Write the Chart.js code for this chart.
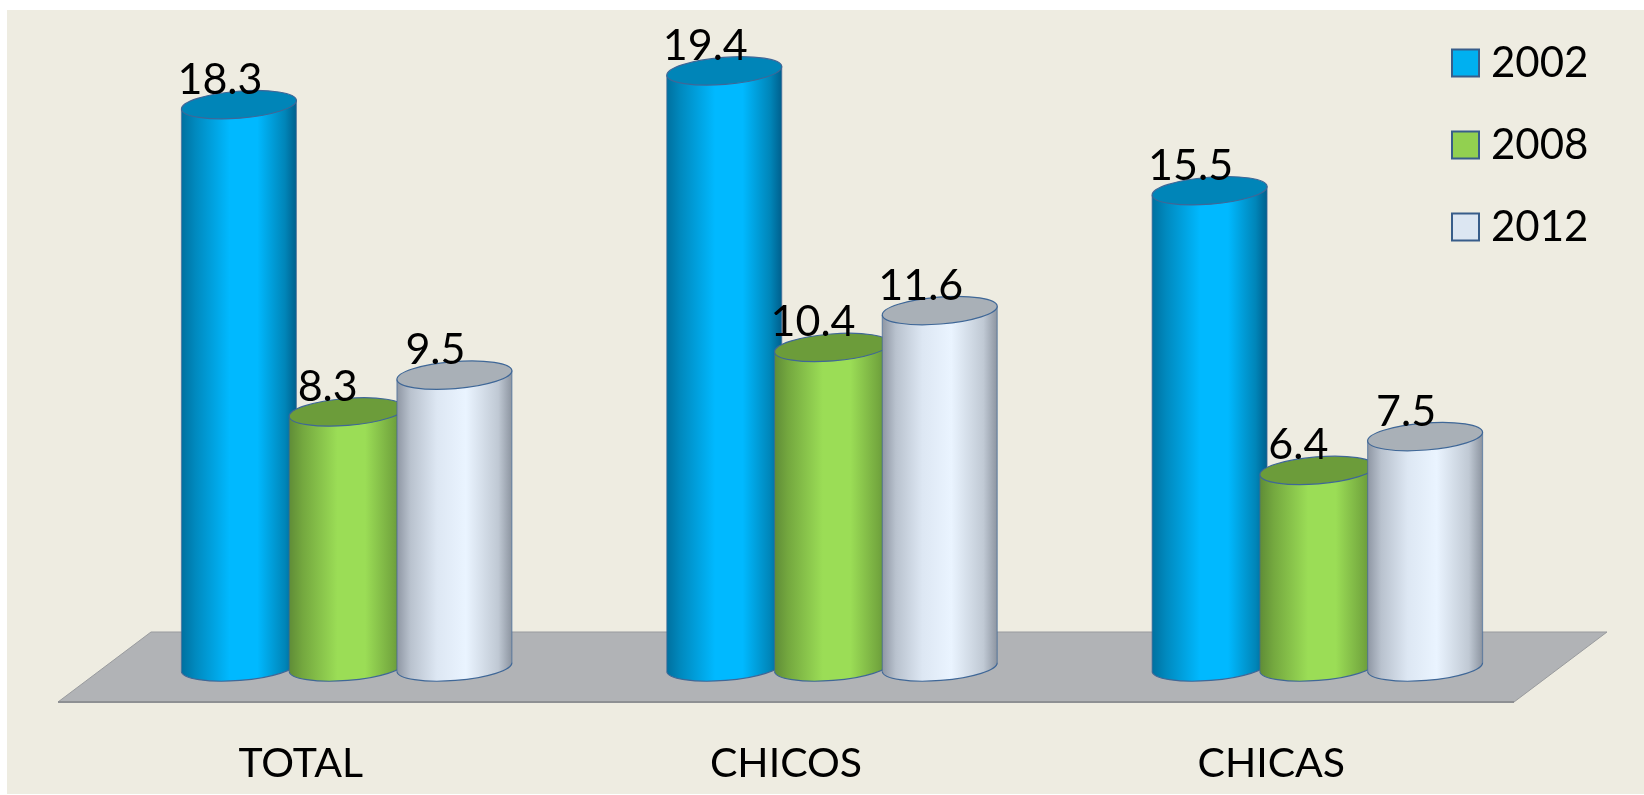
<!DOCTYPE html>
<html lang="es">
<head>
    <meta charset="UTF-8">
    <title>TOTAL, CHICOS, CHICAS</title>
    <script src="https://cdn.jsdelivr.net/npm/chart.js"></script>
    <style>
        html, body { margin: 0; padding: 0; background: #fff; overflow: hidden; }
        canvas { display: block; }
    </style>
</head>
<body>
    <canvas id="chart" width="1644" height="795"></canvas>
    <script>
        const categories = ['TOTAL', 'CHICOS', 'CHICAS'];
        const years = ['2002', '2008', '2012'];
        const values2002 = [18.3, 19.4, 15.5];
        const values2008 = [8.3, 10.4, 6.4];
        const values2012 = [9.5, 11.6, 7.5];

        const legendColors = ['#00B0F0', '#92D050', '#DCE6F2'];
        const topColors = ['#0085B8', '#6C9C3A', '#A9B0B7'];
        const sideStops = [
            [[0, '#00709F'], [0.12, '#0089BE'], [0.42, '#00B9FF'], [0.66, '#00B9FF'], [0.9, '#0085B8'], [1, '#005F8C']],
            [[0, '#5F8C37'], [0.12, '#74A83F'], [0.42, '#9BDD56'], [0.66, '#9BDD56'], [0.9, '#74A83F'], [1, '#5F8C37']],
            [[0, '#8E96A3'], [0.12, '#B9C2CE'], [0.35, '#DDE7F3'], [0.6, '#EAF4FF'], [0.88, '#C0C9D4'], [1, '#8C94A0']]
        ];
        const fontName = 'Lato, "Open Sans", sans-serif';
        const outline = '#3F6797';

        // half of the floor depth, bars stand in the middle of it
        const floorDx = 93;
        const floorDy = -70;
        const barDx = 46;
        const barDy = -35;
        const tilt = -4.5 * Math.PI / 180;
        const ry = 13.5;

        function drawCylinder(ctx, bar, d) {
            const cx = bar.x + barDx;
            const top = bar.y + barDy;
            const bottom = bar.base + barDy;
            const rx = bar.width * 1.07 / 2;
            const ex = rx * Math.cos(tilt);
            const ey = rx * Math.sin(tilt);

            const grad = ctx.createLinearGradient(cx - rx, 0, cx + rx, 0);
            sideStops[d].forEach(s => grad.addColorStop(s[0], s[1]));

            ctx.beginPath();
            ctx.moveTo(cx - ex, top - ey);
            ctx.lineTo(cx - ex, bottom - ey);
            ctx.ellipse(cx, bottom, rx, ry, tilt, Math.PI, 0, true);
            ctx.lineTo(cx + ex, top + ey);
            ctx.closePath();
            ctx.fillStyle = grad;
            ctx.fill();

            ctx.beginPath();
            ctx.ellipse(cx, bottom, rx, ry, tilt, Math.PI, 0, true);
            ctx.strokeStyle = outline;
            ctx.lineWidth = 1.2;
            ctx.stroke();

            ctx.beginPath();
            ctx.moveTo(cx - ex, top - ey);
            ctx.lineTo(cx - ex, bottom - ey);
            ctx.moveTo(cx + ex, top + ey);
            ctx.lineTo(cx + ex, bottom + ey);
            ctx.strokeStyle = 'rgba(63,103,151,0.6)';
            ctx.stroke();

            ctx.beginPath();
            ctx.ellipse(cx, top, rx, ry, tilt, 0, Math.PI * 2);
            ctx.fillStyle = topColors[d];
            ctx.fill();
            ctx.strokeStyle = outline;
            ctx.stroke();
        }

        const cylinderPlugin = {
            id: 'cylinders',
            beforeDraw(chart) {
                const ctx = chart.ctx;
                ctx.save();
                ctx.fillStyle = '#EEECE1';
                ctx.fillRect(7, 10, chart.width - 7, chart.height - 11);
                ctx.restore();
            },
            beforeDatasetsDraw(chart) {
                const ctx = chart.ctx;
                const a = chart.chartArea;
                ctx.save();

                // floor
                ctx.beginPath();
                ctx.moveTo(a.left, a.bottom);
                ctx.lineTo(a.left + floorDx, a.bottom + floorDy);
                ctx.lineTo(a.right + floorDx, a.bottom + floorDy);
                ctx.lineTo(a.right, a.bottom);
                ctx.closePath();
                ctx.fillStyle = '#B1B3B6';
                ctx.fill();
                ctx.strokeStyle = '#999B9E';
                ctx.lineWidth = 1;
                ctx.stroke();
                ctx.beginPath();
                ctx.moveTo(a.left, a.bottom);
                ctx.lineTo(a.right, a.bottom);
                ctx.strokeStyle = '#8E9093';
                ctx.lineWidth = 2;
                ctx.stroke();

                // bars, group by group so the later ones overlap the earlier ones
                categories.forEach((c, i) => {
                    chart.data.datasets.forEach((ds, d) => {
                        drawCylinder(ctx, chart.getDatasetMeta(d).data[i], d);
                    });
                });

                // value labels
                ctx.fillStyle = '#000';
                ctx.font = '43px ' + fontName;
                ctx.textAlign = 'center';
                ctx.textBaseline = 'alphabetic';
                chart.data.datasets.forEach((ds, d) => {
                    chart.getDatasetMeta(d).data.forEach((bar, i) => {
                        ctx.fillText(ds.data[i].toFixed(1), bar.x + barDx - 19, bar.y + barDy - 11);
                    });
                });

                // legend
                ctx.font = '42px ' + fontName;
                ctx.textAlign = 'left';
                chart.data.datasets.forEach((ds, d) => {
                    const rowY = 63 + d * 82;
                    ctx.fillStyle = ds.backgroundColor;
                    ctx.fillRect(1452, rowY - 13.5, 27, 27);
                    ctx.strokeStyle = '#385D8A';
                    ctx.lineWidth = 2;
                    ctx.strokeRect(1452, rowY - 13.5, 27, 27);
                    ctx.fillStyle = '#000';
                    ctx.fillText(ds.label, 1491, rowY + 14);
                });

                ctx.restore();
                return false; // the cylinders replace the flat bars
            }
        };

        new Chart(document.getElementById('chart'), {
            type: 'bar',
            data: {
                labels: categories,
                datasets: [
                    { label: years[0], data: values2002, backgroundColor: legendColors[0] },
                    { label: years[1], data: values2008, backgroundColor: legendColors[1] },
                    { label: years[2], data: values2012, backgroundColor: legendColors[2] }
                ]
            },
            options: {
                responsive: false,
                animation: false,
                events: [],
                layout: { padding: { left: 58, right: 130, top: 26, bottom: 0 } },
                datasets: { bar: { barPercentage: 1, categoryPercentage: 0.666 } },
                plugins: { legend: { display: false }, tooltip: { enabled: false } },
                scales: {
                    x: {
                        afterFit(scale) { scale.height = 93; },
                        grid: { display: false },
                        border: { display: false },
                        ticks: { color: '#000', font: { family: fontName, size: 41 }, padding: 29, maxRotation: 0 }
                    },
                    y: { display: false, min: 0, max: 22 }
                }
            },
            plugins: [cylinderPlugin]
        });
    </script>
</body>
</html>
